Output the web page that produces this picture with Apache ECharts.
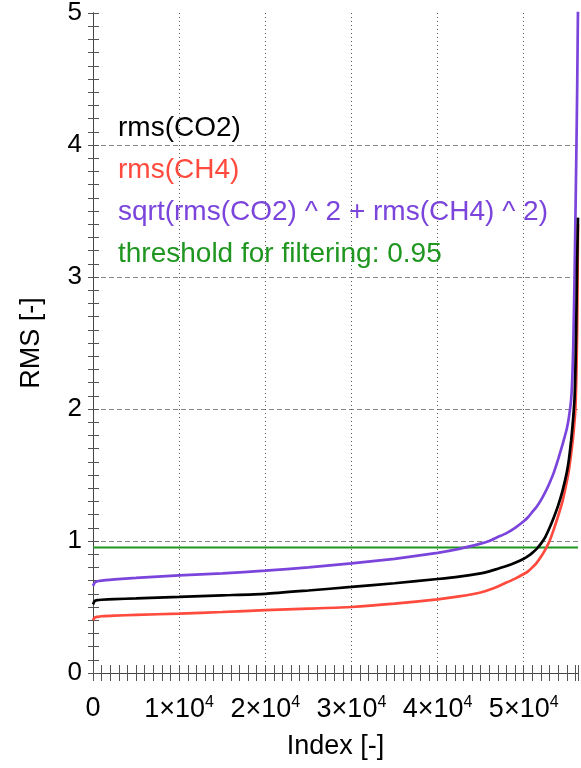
<!DOCTYPE html>
<html>
<head>
<meta charset="utf-8">
<script src="https://cdn.jsdelivr.net/npm/echarts@6/dist/echarts.min.js"></script>
<style>
  html, body { margin: 0; padding: 0; background: #fff; }
  #chart { width: 581px; height: 768px; }
</style>
</head>
<body>
<div id="chart"></div>
<script>
// sample index positions (x) shared by all curves
const indexValues = [0, 200, 500, 1000, 2500, 5000, 10000, 15000, 20000, 25000, 30000, 35000,
  40000, 42500, 45000, 46000, 47000, 48000, 49000, 50000, 50500, 51000, 51500, 52000, 52500,
  53000, 53500, 54000, 54500, 55000, 55250, 55500, 55650, 55750, 55900, 56000, 56100, 56200, 56300];

const rmsCO2 = [0.52, 0.545, 0.552, 0.555, 0.56, 0.565, 0.576, 0.588, 0.60, 0.625, 0.652, 0.68,
  0.712, 0.73, 0.755, 0.77, 0.79, 0.81, 0.835, 0.865, 0.885, 0.91, 0.94, 0.98, 1.03,
  1.10, 1.18, 1.27, 1.38, 1.52, 1.62, 1.76, 1.86, 1.94, 2.08, 2.3, 2.65, 3.1, 3.45];

const rmsCH4 = [0.40, 0.42, 0.425, 0.43, 0.435, 0.44, 0.45, 0.462, 0.476, 0.488, 0.50, 0.525,
  0.558, 0.58, 0.61, 0.63, 0.655, 0.685, 0.715, 0.75, 0.77, 0.80, 0.835, 0.88, 0.935,
  1.0, 1.09, 1.19, 1.30, 1.45, 1.54, 1.66, 1.74, 1.80, 1.91, 2.0, 2.22, 2.6, 3.4];

const rmsTotal = [0.66, 0.685, 0.695, 0.70, 0.71, 0.72, 0.74, 0.755, 0.775, 0.80, 0.83, 0.865,
  0.91, 0.94, 0.98, 1.00, 1.03, 1.06, 1.10, 1.15, 1.18, 1.22, 1.26, 1.31, 1.37,
  1.44, 1.52, 1.62, 1.73, 1.85, 1.94, 2.07, 2.25, 2.48, 3.0, 3.45, 3.9, 4.4, 5.05];

const threshold = 0.95;
const xMax = 56300;

const seriesNames = ['rms(CO2)', 'rms(CH4)', 'sqrt(rms(CO2) ^ 2 + rms(CH4) ^ 2)', 'threshold for filtering: 0.95'];
const seriesColors = ['#000000', '#ff4a3d', '#7b45dc', '#1f961f'];

const pairs = (ys) => indexValues.map((x, i) => [x, ys[i]]);

const chart = echarts.init(document.getElementById('chart'));

const fontFamily = '"Liberation Sans", Arial, Helvetica, sans-serif';
const frameColor = '#444';

// extra axes that only carry the small ticks all round the frame
const tickAxis = (pos, isX, len) => ({
  type: 'value',
  position: pos,
  min: 0,
  max: isX ? xMax : 5,
  interval: isX ? 1000 : 0.1,
  axisLine: { show: true, lineStyle: { color: frameColor, width: 1 } },
  axisTick: { show: true, inside: true, length: len, lineStyle: { color: '#555', width: 1 } },
  axisLabel: { show: false },
  splitLine: { show: false }
});

const curve = (i, ys, z) => ({
  name: seriesNames[i],
  type: 'line',
  data: pairs(ys),
  showSymbol: false,
  smooth: 0.2,
  lineStyle: { color: seriesColors[i], width: 2.7 },
  itemStyle: { color: seriesColors[i] },
  z: z
});

const option = {
  backgroundColor: '#fff',
  animation: false,
  textStyle: { fontFamily: fontFamily },
  grid: { left: 93, right: 1, top: 11, bottom: 95 },
  legend: {
    orient: 'vertical',
    left: 108,
    top: 109,
    itemGap: 14,
    itemWidth: 0,
    itemHeight: 10,
    icon: 'none',
    selectedMode: false,
    data: seriesNames.map((n, i) => ({
      name: n,
      icon: 'none',
      textStyle: { color: seriesColors[i], fontSize: 28, fontFamily: fontFamily }
    }))
  },
  xAxis: [
    {
      type: 'value',
      position: 'bottom',
      min: 0,
      max: xMax,
      interval: 10000,
      name: 'Index [-]',
      nameLocation: 'middle',
      nameGap: 60,
      nameTextStyle: { color: '#000', fontSize: 27, fontFamily: fontFamily },
      axisLine: { show: false },
      axisTick: { show: false },
      axisLabel: {
        margin: 22,
        color: '#000',
        fontSize: 27,
        formatter: (v) => {
          if (v === 0) return '{b|0}';
          if (v % 10000 !== 0) return '';
          return '{b|' + (v / 10000) + '×10}{s|4}';
        },
        rich: {
          b: { fontSize: 27, color: '#000', fontFamily: fontFamily },
          s: { fontSize: 16, color: '#000', fontFamily: fontFamily, padding: [0, 0, 14, 0] }
        }
      },
      splitLine: {
        show: true,
        showMinLine: false,
        showMaxLine: false,
        lineStyle: { color: '#555', type: [1, 3], width: 1 }
      }
    },
    tickAxis('bottom', true, 8),
    tickAxis('top', true, 8)
  ],
  yAxis: [
    {
      type: 'value',
      position: 'left',
      min: 0,
      max: 5,
      interval: 1,
      name: 'RMS [-]',
      nameLocation: 'middle',
      nameGap: 48,
      nameTextStyle: { color: '#000', fontSize: 27, fontFamily: fontFamily },
      axisLine: { show: false },
      axisTick: { show: false },
      axisLabel: { margin: 11, color: '#000', fontSize: 26 },
      splitLine: {
        show: true,
        showMinLine: false,
        showMaxLine: false,
        lineStyle: { color: '#888', type: [5, 3], width: 1 }
      }
    },
    tickAxis('left', false, 6),
    tickAxis('right', false, 5)
  ],
  series: [
    curve(0, rmsCO2, 4),
    curve(1, rmsCH4, 3),
    curve(2, rmsTotal, 3),
    {
      name: seriesNames[3],
      type: 'line',
      data: [[0, threshold], [xMax, threshold]],
      showSymbol: false,
      lineStyle: { color: seriesColors[3], width: 2 },
      itemStyle: { color: seriesColors[3] },
      z: 2
    }
  ]
};

chart.setOption(option);
</script>
</body>
</html>
